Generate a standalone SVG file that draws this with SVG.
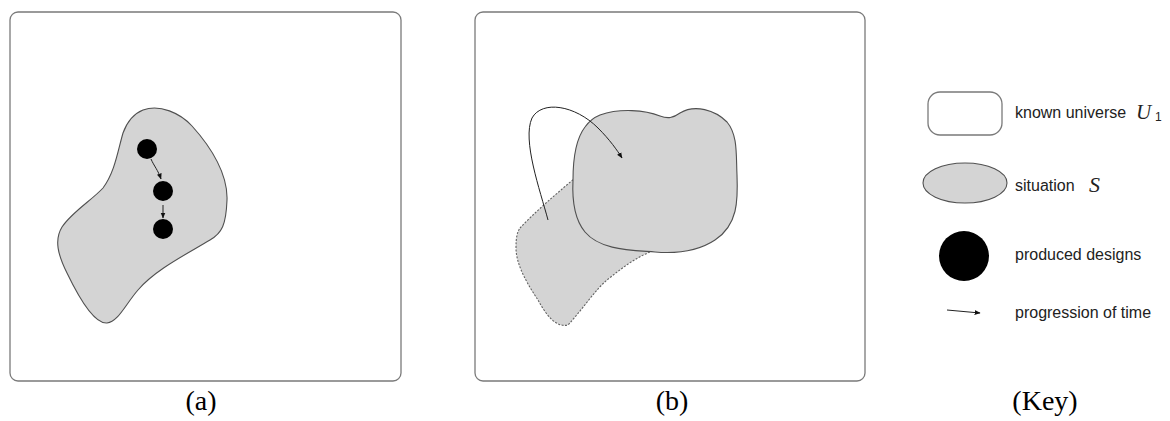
<svg xmlns="http://www.w3.org/2000/svg" width="1170" height="421" viewBox="0 0 1170 421">
<style>
.frame{fill:#fff;stroke:#7a7a7a;stroke-width:1.3}
.blob{fill:#d4d4d4;stroke:#505050;stroke-width:1.1}
.dash{fill:#d4d4d4;stroke:#606060;stroke-width:1.1;stroke-dasharray:2 1.5}
.dot{fill:#000}
.conn{fill:none;stroke:#222;stroke-width:1}
.cap{font-family:"Liberation Serif","Times New Roman",serif;font-size:28px;fill:#000;text-anchor:middle}
.key{font-family:"Liberation Sans",Arial,sans-serif;font-size:16px;fill:#222}
.math{font-family:"Liberation Serif","Times New Roman",serif;font-style:italic;fill:#222}
.sub{font-family:"Liberation Sans",Arial,sans-serif;font-size:12px;fill:#222}
</style>
<defs>
<marker id="ah" viewBox="0 0 10 10" refX="9" refY="5" markerWidth="6" markerHeight="6" markerUnits="userSpaceOnUse" orient="auto">
<path d="M0,1 L10,5 L0,9 Z" fill="#111"/>
</marker>
</defs>
<rect width="1170" height="421" fill="#fff"/>

<g id="panel-a">
<rect class="frame" x="10" y="12" width="391" height="369" rx="8"/>
<path id="situation-a" class="blob" d="M 143 110 C 160 104, 180 113, 192 126 C 212 148, 228 175, 227 200 C 226 225, 222 233, 210 240 C 185 255, 155 270, 138 290 C 125 305, 118 322, 107 323 C 95 324, 80 300, 67 273 C 58 255, 54 240, 62 227 C 72 212, 92 200, 103 188 C 115 172, 118 150, 123 133 C 127 122, 133 114, 143 110 Z"/>
<circle id="design-1" class="dot" cx="147" cy="149" r="10"/>
<circle id="design-2" class="dot" cx="163" cy="191" r="10"/>
<circle id="design-3" class="dot" cx="163" cy="229" r="10"/>
<text class="cap" x="201" y="410">(a)</text>
</g>

<g id="panel-b">
<rect class="frame" x="475" y="12" width="390" height="369" rx="8"/>
<path id="situation-old" class="dash" d="M 520 228 C 535 212, 555 195, 575 178 L 640 200 L 650 252 C 635 258, 622 268, 607 280 C 595 290, 582 310, 568 325 C 555 328, 545 313, 538 300 C 528 285, 516 265, 516 248 C 516 238, 517 232, 520 228 Z"/>
<path id="situation-new" class="blob" d="M 600 115 C 620 108, 645 110, 660 116 C 668 119, 673 118, 680 113 C 695 104, 715 110, 727 122 C 738 135, 736 155, 737 175 C 738 200, 738 225, 715 240 C 700 250, 680 254, 655 252 C 630 250, 600 250, 585 232 C 575 220, 572 200, 573 180 C 573 160, 575 140, 585 127 C 590 120, 595 117, 600 115 Z"/>
<text class="cap" x="672" y="410">(b)</text>
</g>

<g id="connectors">
<path class="conn" d="M 151 159 C 154 166, 158 170, 161 179" marker-end="url(#ah)"/>
<path class="conn" d="M 163 205 L 163 218" marker-end="url(#ah)"/>
<path class="conn" d="M 548 220 C 540 190, 522 140, 532 118 C 542 100, 575 105, 598 128 C 610 140, 617 150, 622 158" marker-end="url(#ah)"/>
</g>

<g id="key">
<g id="key-universe">
<rect class="frame" x="928" y="92" width="74" height="43" rx="12" stroke="#444"/>
<text class="key" x="1015" y="118">known universe</text>
<text class="math" x="1136" y="119" font-size="21">U</text>
<text class="sub" x="1155" y="121">1</text>
</g>
<g id="key-situation">
<ellipse class="blob" cx="965" cy="183" rx="42" ry="20"/>
<text class="key" x="1015" y="191">situation</text>
<text class="math" x="1089" y="192" font-size="22">S</text>
</g>
<g id="key-design">
<circle class="dot" cx="964" cy="256" r="25"/>
<text class="key" x="1015" y="260">produced designs</text>
</g>
<g id="key-time">
<path class="conn" d="M 947 310 L 980 313" marker-end="url(#ah)"/>
<text class="key" x="1015" y="318">progression of time</text>
</g>
<text class="cap" x="1045" y="410">(Key)</text>
</g>
</svg>
